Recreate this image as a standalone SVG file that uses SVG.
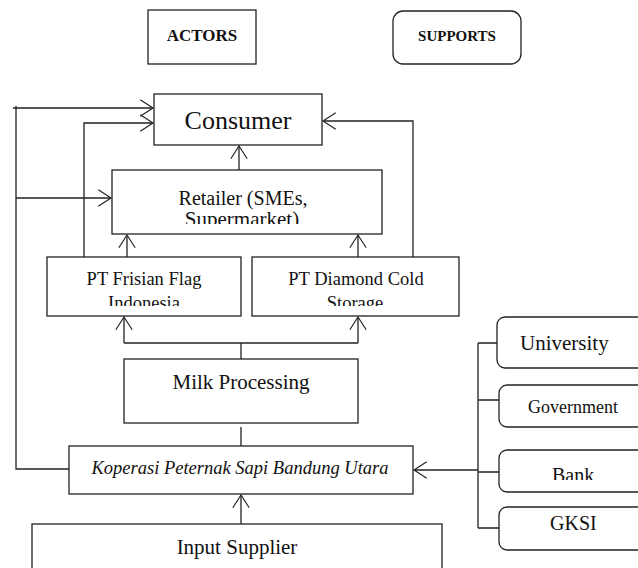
<svg xmlns="http://www.w3.org/2000/svg" width="638" height="568" viewBox="0 0 638 568" font-family="'Liberation Serif', 'Times New Roman', Tinos, 'DejaVu Serif', serif">
<style>
.box{fill:#fff;stroke:#222;stroke-width:1.3}
.ln{fill:none;stroke:#222;stroke-width:1.3}
text{font-family:'Liberation Serif','Times New Roman',Tinos,'DejaVu Serif',serif;fill:#111;text-anchor:middle}
.s{text-anchor:start}
</style>
<defs>
<marker id="ah" markerUnits="userSpaceOnUse" markerWidth="20" markerHeight="20" viewBox="-16 -11 18 22" refX="0" refY="0" orient="auto" overflow="visible">
<path d="M-14,-9 L0,0 L-14,9" fill="none" stroke="#222" stroke-width="1.3"/>
</marker>
<clipPath id="cRet"><rect x="112" y="170" width="270" height="54"/></clipPath>
<clipPath id="cFri"><rect x="47" y="257" width="194" height="49"/></clipPath>
<clipPath id="cDia"><rect x="252" y="257" width="207" height="49"/></clipPath>
<clipPath id="cBank"><rect x="499" y="450" width="139" height="30"/></clipPath>
</defs>
<rect width="638" height="568" fill="#fff"/>

<g id="connectors">
<path class="ln" d="M69,469 H16 V106"/>
<path class="ln" d="M13,108 H153" marker-end="url(#ah)"/>
<path class="ln" d="M16,198 H111" marker-end="url(#ah)"/>
<path class="ln" d="M84,257 V123 H153" marker-end="url(#ah)"/>
<path class="ln" d="M413,257 V121 H323" marker-end="url(#ah)"/>
<path class="ln" d="M239,170 V146" marker-end="url(#ah)"/>
<path class="ln" d="M127,257 V235" marker-end="url(#ah)"/>
<path class="ln" d="M358,257 V235" marker-end="url(#ah)"/>
<path class="ln" d="M241,359 V343"/>
<path class="ln" d="M124,343 H358"/>
<path class="ln" d="M124,343 V317" marker-end="url(#ah)"/>
<path class="ln" d="M358,343 V317" marker-end="url(#ah)"/>
<path class="ln" d="M241,427 V446"/>
<path class="ln" d="M478,470 H414" marker-end="url(#ah)"/>
<path class="ln" d="M241,524 V495" marker-end="url(#ah)"/>
<path class="ln" d="M478,343 V528 M478,343 H497 M478,400 H499 M478,472 H499 M478,528 H499"/>
</g>

<g id="actors">
<rect class="box" x="148" y="10" width="108" height="54"/>
<text x="202" y="41" font-size="17" font-weight="bold">ACTORS</text>
</g>
<g id="supports">
<rect class="box" x="393" y="11" width="128" height="53" rx="10"/>
<text x="457" y="41" font-size="15" font-weight="bold">SUPPORTS</text>
</g>

<g id="consumer">
<rect class="box" x="154" y="94" width="168" height="51"/>
<text x="238" y="129" font-size="26">Consumer</text>
</g>

<g id="retailer">
<rect class="box" x="112" y="170" width="270" height="64"/>
<g clip-path="url(#cRet)">
<text x="243" y="205" font-size="20">Retailer (SMEs,</text>
<text x="242" y="226" font-size="21">Supermarket)</text>
</g>
</g>

<g id="frisian">
<rect class="box" x="47" y="257" width="194" height="59"/>
<g clip-path="url(#cFri)">
<text x="144" y="285" font-size="18.5">PT Frisian Flag</text>
<text x="144" y="309" font-size="18.5">Indonesia</text>
</g>
</g>

<g id="diamond">
<rect class="box" x="252" y="257" width="207" height="59"/>
<g clip-path="url(#cDia)">
<text x="356" y="285" font-size="18.5">PT Diamond Cold</text>
<text x="355" y="309" font-size="18.5">Storage</text>
</g>
</g>

<g id="milk">
<rect class="box" x="124" y="359" width="234" height="64"/>
<text x="241" y="389" font-size="21">Milk Processing</text>
</g>

<g id="koperasi">
<rect class="box" x="69" y="446" width="344" height="48"/>
<text x="240" y="474" font-size="18.5" font-style="italic">Koperasi Peternak Sapi Bandung Utara</text>
</g>

<g id="input">
<rect class="box" x="32" y="524" width="410" height="60"/>
<text x="237" y="554" font-size="21">Input Supplier</text>
</g>

<g id="university">
<rect class="box" x="497" y="317" width="200" height="51" rx="8"/>
<text class="s" x="520" y="350" font-size="21">University</text>
</g>
<g id="government">
<rect class="box" x="499" y="385" width="200" height="42" rx="8"/>
<text class="s" x="528" y="413" font-size="18">Government</text>
</g>
<g id="bank">
<rect class="box" x="499" y="450" width="200" height="42" rx="8"/>
<text class="s" x="552" y="482" font-size="20" clip-path="url(#cBank)">Bank</text>
</g>
<g id="gksi">
<rect class="box" x="499" y="507" width="200" height="43" rx="8"/>
<text class="s" x="550" y="530" font-size="20">GKSI</text>
</g>
</svg>
